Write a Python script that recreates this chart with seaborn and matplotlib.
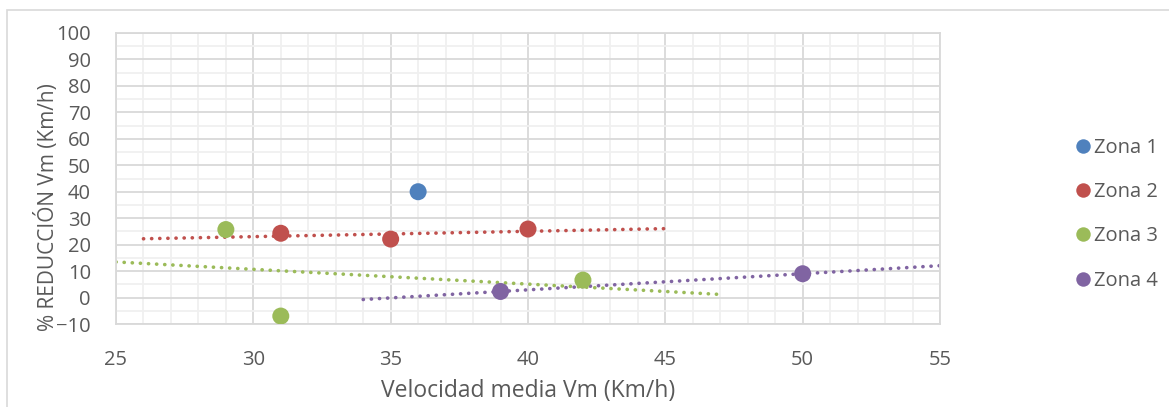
import numpy as np
import pandas as pd
import matplotlib
matplotlib.use("Agg")
import matplotlib.pyplot as plt
from matplotlib.ticker import MultipleLocator
from matplotlib.patches import Rectangle
import seaborn as sns

sns.set_theme(style="white")
plt.rcParams['font.family'] = ['Open Sans', 'DejaVu Sans']

zones = ["Zona 1", "Zona 2", "Zona 3", "Zona 4"]
zona1_x = [36]
zona1_y = [40]
zona2_x = [31, 35, 40]
zona2_y = [24.3, 22.1, 25.9]
zona3_x = [29, 31, 42]
zona3_y = [25.7, -7.0, 6.6]
zona4_x = [39, 50]
zona4_y = [2.3, 9.0]
colors = ["#4F81BD", "#C0504D", "#9BBB59", "#8064A2"]

df = pd.DataFrame({
    "x": zona1_x + zona2_x + zona3_x + zona4_x,
    "y": zona1_y + zona2_y + zona3_y + zona4_y,
    "zona": ["Zona 1"] * len(zona1_x) + ["Zona 2"] * len(zona2_x)
            + ["Zona 3"] * len(zona3_x) + ["Zona 4"] * len(zona4_x),
})

W, H = 1169, 407
fig = plt.figure(figsize=(W / 100, H / 100), dpi=100)
ax = fig.add_axes([116 / W, (H - 324) / H, (940 - 116) / W, (324 - 33) / H])

ax.set_xlim(25, 55)
ax.set_ylim(-10, 100)
ax.xaxis.set_major_locator(MultipleLocator(5))
ax.xaxis.set_minor_locator(MultipleLocator(1))
ax.yaxis.set_major_locator(MultipleLocator(10))
ax.yaxis.set_minor_locator(MultipleLocator(5))
ax.grid(which="major", color="#D9D9D9", linewidth=1.3, zorder=0)
ax.grid(which="minor", color="#F0F0F0", linewidth=1.3, zorder=0)
ax.set_axisbelow(True)
for s in ax.spines.values():
    s.set_color("#D9D9D9")
    s.set_linewidth(1.3)

# trendlines (linear fit, extended 5 units forward/backward, clipped to axis)
for zx, zy, c in [(zona2_x, zona2_y, colors[1]), (zona3_x, zona3_y, colors[2]), (zona4_x, zona4_y, colors[3])]:
    m, b = np.polyfit(zx, zy, 1)
    x0 = max(min(zx) - 5, 25)
    x1 = min(max(zx) + 5, 55)
    xs = np.array([x0, x1])
    ax.plot(xs, m * xs + b, color=c, linewidth=2.6, linestyle=(0, (0.05, 2.2)),
            dash_capstyle="round", solid_capstyle="round", zorder=2)

sns.scatterplot(data=df, x="x", y="y", hue="zona", hue_order=zones, palette=colors,
                s=150, edgecolor="none", ax=ax, zorder=3, legend=True)

ax.tick_params(axis="both", which="both", length=0, labelsize=14.5, labelcolor="#595959")
ax.tick_params(axis="x", pad=19)
ax.tick_params(axis="y", pad=18)
ax.set_xlabel("")
ax.set_ylabel("")

fig.text(528 / W, 1 - 391 / H, "Velocidad media Vm (Km/h)", ha="center", va="center",
         fontsize=16.5, color="#595959")
fig.text(47 / W, 1 - 207 / H, "% REDUCCIÓN Vm (Km/h)", ha="center", va="center",
         rotation=90, fontsize=15, color="#595959")

leg = ax.legend(loc="upper left", bbox_to_anchor=(1062 / W, 1 - 128 / H),
                bbox_transform=fig.transFigure, frameon=False, fontsize=14.5,
                handletextpad=0.0, labelspacing=1.2, borderpad=0, handlelength=1.1,
                markerscale=0.85)
for t in leg.get_texts():
    t.set_color("#595959")

fig.patches.append(Rectangle((7 / W, -0.01), (W - 7) / W + 0.01, 1 - 10 / H + 0.01,
                             transform=fig.transFigure, fill=False,
                             edgecolor="#D9D9D9", linewidth=1.2, zorder=0))

fig.savefig("out.png", dpi=100, facecolor="white")
